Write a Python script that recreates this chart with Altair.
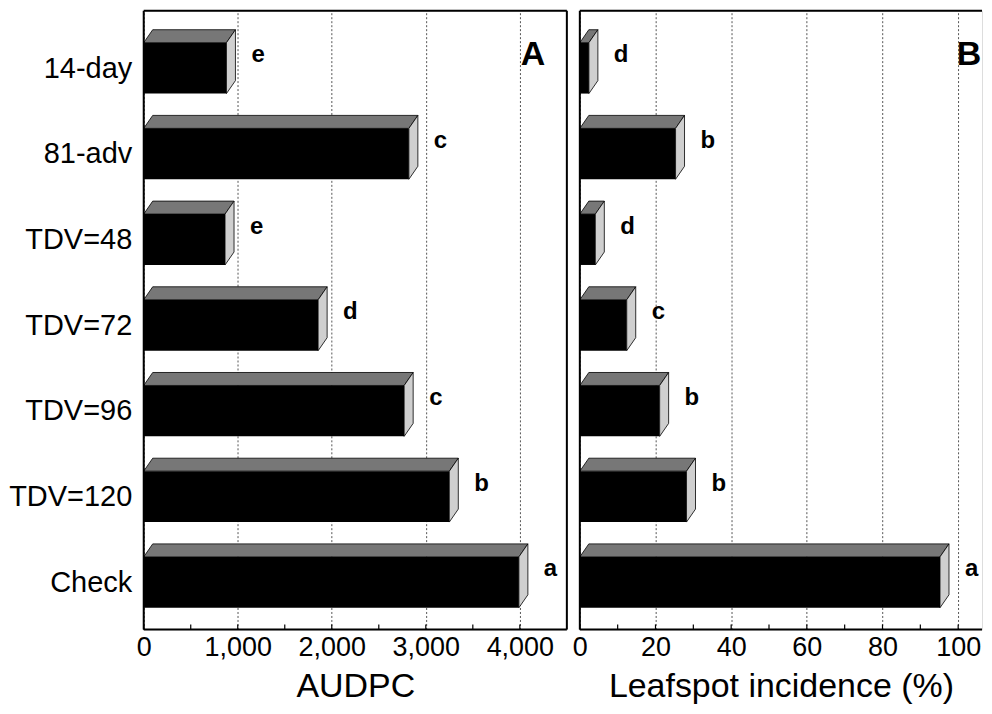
import json
import altair as alt
import pandas as pd

# ---------------- data ----------------
cats = ["14-day", "81-adv", "TDV=48", "TDV=72", "TDV=96", "TDV=120", "Check"]
audpc = [880, 2820, 865, 1855, 2770, 3250, 3990]
audpc_grp = ["e", "c", "e", "d", "c", "b", "a"]
incid = [2.4, 25.3, 4.1, 12.4, 21.1, 28.2, 95.2]
incid_grp = ["d", "b", "d", "c", "b", "b", "a"]

a_ticks = [0, 1000, 2000, 3000, 4000]
a_minor = [500, 1500, 2500, 3500]
b_ticks = [0, 20, 40, 60, 80, 100]
b_minor = [10, 30, 50, 70, 90]

# ---------------- style ----------------
FONT = "Liberation Sans"
H = 620
Y_DOM = [-0.67, 6.55]
UNIT = H / (Y_DOM[1] - Y_DOM[0])   # px per category step
HALF = 25.5 / UNIT                  # half height of the front face
DEPTH = 13 / UNIT                   # vertical depth of the top face
SIDE_PX = 9                         # horizontal depth of the side face

yscale = alt.Scale(domain=Y_DOM, reverse=True, nice=False, zero=False)
label_expr = json.dumps(cats) + "[datum.value]"


def panel(values, groups, xmax, width, ticks, minor, fmt, title, tag, show_y, right_border):
    xscale = alt.Scale(domain=[0, xmax], nice=False, zero=True)
    dxu = SIDE_PX / (width / xmax)

    front = pd.DataFrame({"cat": cats, "i": list(range(len(cats))), "v": values, "grp": groups})
    front["zero"] = 0.0
    front["y1"] = front["i"] - HALF
    front["y2"] = front["i"] + HALF

    top_rows, side_rows = [], []
    for c, i, v in zip(cats, range(len(cats)), values):
        top_rows.append({"cat": c, "y": i - HALF, "xa": 0.0, "xb": v})
        top_rows.append({"cat": c, "y": i - HALF - DEPTH, "xa": dxu, "xb": v + dxu})
        side_rows.append({"cat": c, "x": v, "ya": i + HALF, "yb": i - HALF})
        side_rows.append({"cat": c, "x": v + dxu, "ya": i + HALF - DEPTH, "yb": i - HALF - DEPTH})
    top = pd.DataFrame(top_rows)
    side = pd.DataFrame(side_rows)

    xaxis = alt.Axis(values=ticks, format=fmt, grid=True, gridDash=[2, 2], gridColor="#555",
                     gridWidth=1, ticks=False, domain=False, labelFontSize=27, labelFont=FONT,
                     labelColor="black", labelPadding=5, labelFlush=False, title=title,
                     titleFontSize=34, titleFont=FONT, titleFontWeight="normal",
                     titleColor="black", titlePadding=9)
    if show_y:
        yaxis = alt.Axis(values=list(range(len(cats))), labelExpr=label_expr, domain=False,
                         ticks=False, grid=False, labelFontSize=29, labelFont=FONT,
                         labelColor="black", labelPadding=12, title=None)
    else:
        yaxis = alt.Axis(values=list(range(len(cats))), labels=False, domain=False,
                         ticks=False, grid=False, title=None)

    def X(f):
        return alt.X(f, scale=xscale, axis=xaxis)

    def Y(f):
        return alt.Y(f, scale=yscale, axis=yaxis)

    front_l = alt.Chart(front).mark_rect(color="black").encode(
        x=X("zero:Q"), x2="v:Q", y=Y("y1:Q"), y2="y2:Q")

    top_l = alt.Chart(top).mark_area(orient="horizontal", fill="#777777", stroke="black",
                                     strokeWidth=0.8).encode(
        y=Y("y:Q"), x=X("xa:Q"), x2="xb:Q", detail="cat:N")

    side_l = alt.Chart(side).mark_area(orient="vertical", fill="#cfcfcf", stroke="black",
                                       strokeWidth=0.8).encode(
        x=X("x:Q"), y=Y("ya:Q"), y2="yb:Q", detail="cat:N")

    text_l = alt.Chart(front).mark_text(align="left", baseline="alphabetic", dx=SIDE_PX + 16,
                                        dy=-6, fontSize=24, fontWeight="bold", font=FONT,
                                        color="black").encode(
        x=X("v:Q"), y=Y("i:Q"), text="grp:N")

    tick_df = pd.DataFrame({"t": ticks + minor})
    tick_l = alt.Chart(tick_df).mark_rule(color="black", strokeWidth=1.2).encode(
        x=X("t:Q"), y=alt.value(H - 5), y2=alt.value(H))

    one = pd.DataFrame({"k": [0]})
    tag_l = alt.Chart(one).mark_text(text=tag, align="center", baseline="alphabetic",
                                     fontSize=34, fontWeight="bold", font=FONT,
                                     color="black").encode(
        x=alt.value(390), y=alt.value(54))

    frame_layers = [
        alt.Chart(one).mark_rule(color="black", strokeWidth=2).encode(
            x=alt.value(0), x2=alt.value(width), y=alt.value(0)),
        alt.Chart(one).mark_rule(color="black", strokeWidth=2).encode(
            x=alt.value(0), x2=alt.value(width), y=alt.value(H)),
        alt.Chart(one).mark_rule(color="black", strokeWidth=2).encode(
            x=alt.value(0), y=alt.value(0), y2=alt.value(H)),
    ]
    if right_border:
        frame_layers.append(alt.Chart(one).mark_rule(color="black", strokeWidth=2).encode(
            x=alt.value(width), y=alt.value(0), y2=alt.value(H)))

    return alt.layer(front_l, top_l, side_l, text_l, tick_l, tag_l, *frame_layers).properties(
        width=width, height=H)


pa = panel(audpc, audpc_grp, 4500, 424, a_ticks, a_minor, ",d", "AUDPC", "A", True, True)
pb = panel(incid, incid_grp, 106.3, 403, b_ticks, b_minor, "d", "Leafspot incidence (%)", "B",
           False, False)

chart = alt.hconcat(pa, pb, spacing=13, bounds="flush").properties(
    padding={"left": 0, "top": 0, "right": 0, "bottom": 0}
).configure_view(stroke="transparent", strokeWidth=0).configure(background="white")

chart.save("out.html", embed_options={"renderer": "svg", "actions": False})
